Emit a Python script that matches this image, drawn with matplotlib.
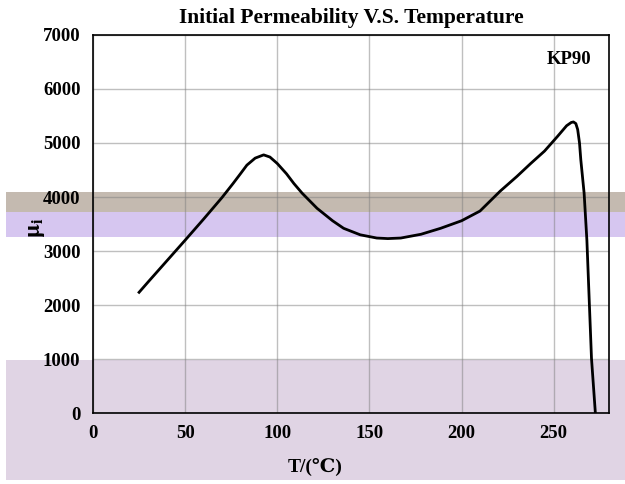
import matplotlib
matplotlib.use("Agg")
import matplotlib.pyplot as plt
from matplotlib.patches import Rectangle

# 温度 (℃) と初透磁率 μi
temp = [25, 30, 40, 50, 60, 70, 76, 80, 83.5, 88, 92.6, 96, 100, 105, 109, 113.5,
        121.6, 130, 136, 145, 154, 160, 167, 178, 188.6, 200, 210, 221, 230,
        237.5, 245, 252, 257, 259.5, 260.7, 262, 263, 264, 264.7, 266.5, 268,
        270.5, 272.6]
mu_i = [2235, 2430, 2815, 3200, 3590, 3990, 4250, 4430, 4590, 4720, 4780, 4740,
        4620, 4430, 4250, 4070, 3790, 3560, 3420, 3300, 3240, 3230, 3240, 3310,
        3420, 3560, 3740, 4110, 4380, 4620, 4850, 5120, 5320, 5380, 5390, 5360,
        5250, 5000, 4690, 4070, 3200, 1010, 0]

x_ticks = [0, 50, 100, 150, 200, 250]
y_ticks = [0, 1000, 2000, 3000, 4000, 5000, 6000, 7000]

serif = ["Liberation Serif", "DejaVu Serif"]
plt.rcParams["font.family"] = serif
plt.rcParams["mathtext.fontset"] = "stix"

W, H = 625, 484
fig = plt.figure(figsize=(W / 100, H / 100), dpi=100)
ax = fig.add_axes([93 / W, 1 - 413 / H, (609 - 93) / W, (413 - 35) / H])
ax.set_facecolor("none")

# スキャンの色帯 (背景)
bands = [(192, 212, "#C4BAB0"), (212, 237, "#D6C6F0"), (360, 480, "#E0D4E4")]
for top, bottom, col in bands:
    fig.patches.append(Rectangle((6 / W, 1 - bottom / H), 1 - 6 / W, (bottom - top) / H,
                                 transform=fig.transFigure, facecolor=col,
                                 edgecolor="none", zorder=-5))

ax.plot(temp, mu_i, color="black", lw=2.0, zorder=3)

ax.set_xlim(0, 280)
ax.set_ylim(0, 7000)
ax.set_xticks(x_ticks)
ax.set_yticks(y_ticks)
ax.grid(True, color="#808080", alpha=0.5, lw=1.0)
ax.tick_params(length=0, labelsize=13.5, pad=9)
for lab in ax.get_xticklabels() + ax.get_yticklabels():
    lab.set_fontweight("bold")
for s in ax.spines.values():
    s.set_color("black")
    s.set_linewidth(1.2)

ax.set_title("Initial Permeability V.S. Temperature", fontsize=15.5,
             fontweight="bold", pad=9)
ax.set_xlabel("T/(℃)", fontsize=14, fontweight="bold")
ax.xaxis.set_label_coords(0.43, -0.12)
ax.set_ylabel(r"$\mathbf{\mu_i}$", fontsize=17)
ax.yaxis.set_label_coords(-0.09, 0.49)
ax.text(0.965, 0.935, "KP90", transform=ax.transAxes, ha="right", va="center",
        fontsize=13.5, fontweight="bold")

fig.savefig("out.png", dpi=100)
